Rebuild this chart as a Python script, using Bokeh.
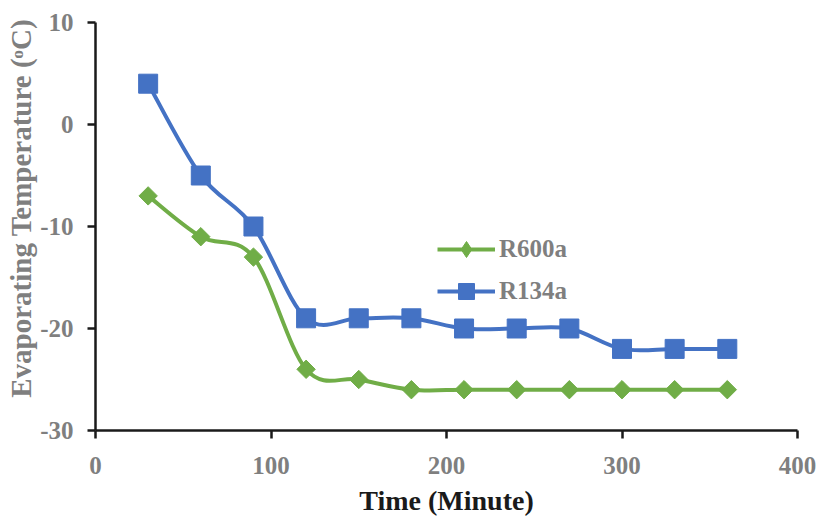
import numpy as np
from bokeh.plotting import figure
from bokeh.models import (Range1d, Legend, LegendItem, ColumnDataSource, FixedTicker,
                          PrintfTickFormatter)
from bokeh.embed import file_html
from bokeh.resources import INLINE

time_min = [30, 60, 90, 120, 150, 180, 210, 240, 270, 300, 330, 360]
r600a = [-7, -11, -13, -24, -25, -26, -26, -26, -26, -26, -26, -26]
r134a = [4, -5, -10, -19, -19, -19, -20, -20, -20, -22, -22, -22]
x_ticks = [0, 100, 200, 300, 400]
y_ticks = [-30, -20, -10, 0, 10]

GREEN = "#70AD47"
BLUE = "#4472C4"
GRAY = "#7f7f7f"
DARK = "#1a1a1a"
FONT = "Liberation Serif"


def smooth_segments(xs, ys):
    # Excel-style smoothed line: cubic Bezier segments with Catmull-Rom control points
    x = np.asarray(xs, float)
    y = np.asarray(ys, float)
    n = len(x)
    xp = np.concatenate([[x[0]], x, [x[-1]]])
    yp = np.concatenate([[y[0]], y, [y[-1]]])
    d = {k: [] for k in ("x0", "y0", "x1", "y1", "cx0", "cy0", "cx1", "cy1")}
    for i in range(n - 1):
        j = i + 1
        d["x0"].append(x[i]); d["y0"].append(y[i])
        d["x1"].append(x[i + 1]); d["y1"].append(y[i + 1])
        d["cx0"].append(x[i] + (xp[j + 1] - xp[j - 1]) / 6)
        d["cy0"].append(y[i] + (yp[j + 1] - yp[j - 1]) / 6)
        d["cx1"].append(x[i + 1] - (xp[j + 2] - xp[j]) / 6)
        d["cy1"].append(y[i + 1] - (yp[j + 2] - yp[j]) / 6)
    return ColumnDataSource(d)


H = 518
p = figure(width=818, height=H, output_backend="svg", toolbar_location=None,
           x_range=Range1d(0, 400), y_range=Range1d(-30, 10),
           min_border_left=95, min_border_right=21, min_border_top=22, min_border_bottom=86)
p.outline_line_color = None
p.xgrid.visible = False
p.ygrid.visible = False

for ax in (p.xaxis[0], p.yaxis[0]):
    ax.axis_line_color = DARK
    ax.axis_line_width = 2.5
    ax.major_tick_line_color = DARK
    ax.major_tick_line_width = 2.5
    ax.major_tick_out = 8
    ax.major_tick_in = 0
    ax.minor_tick_line_color = None
    ax.major_label_text_font = FONT
    ax.major_label_text_font_style = "bold"
    ax.major_label_text_font_size = "25px"
    ax.major_label_text_color = GRAY
    ax.axis_label_text_font = FONT
    ax.axis_label_text_font_style = "bold"
    ax.formatter = PrintfTickFormatter(format="%d")

p.xaxis.ticker = FixedTicker(ticks=x_ticks)
p.yaxis.ticker = FixedTicker(ticks=y_ticks)
p.xaxis.axis_label = "Time (Minute)"
p.xaxis.axis_label_text_font_size = "28px"
p.xaxis.axis_label_text_color = DARK
p.xaxis.axis_label_standoff = 8
p.xaxis.major_label_standoff = 18
p.yaxis.major_label_standoff = 14
# leading no-break spaces shift the centred title towards the top, as in the original
p.yaxis.axis_label = "\u00a0" * 5 + "Evaporating Temperature (\u1d52C)"
p.yaxis.axis_label_text_font_size = "29px"
p.yaxis.axis_label_text_color = GRAY
p.yaxis.axis_label_standoff = 0

src_g = smooth_segments(time_min, r600a)
src_b = smooth_segments(time_min, r134a)
p.bezier(x0="x0", y0="y0", x1="x1", y1="y1", cx0="cx0", cy0="cy0", cx1="cx1", cy1="cy1",
         source=src_g, line_color=GREEN, line_width=4)
p.bezier(x0="x0", y0="y0", x1="x1", y1="y1", cx0="cx0", cy0="cy0", cx1="cx1", cy1="cy1",
         source=src_b, line_color=BLUE, line_width=4)

sg = p.scatter(time_min, r600a, marker="square", angle=np.pi / 4, size=13,
               fill_color=GREEN, line_color=GREEN)
sb = p.scatter(time_min, r134a, marker="square", size=19,
               fill_color=BLUE, line_color=BLUE)

# hidden renderers used only for the legend swatches
lg = p.line(time_min, r600a, line_color=GREEN, line_width=4, visible=False)
lb = p.line(time_min, r134a, line_color=BLUE, line_width=4, visible=False)
mg = p.scatter(time_min, r600a, marker="diamond", size=16,
               fill_color=GREEN, line_color=GREEN, visible=False)

legend = Legend(items=[LegendItem(label="R600a", renderers=[lg, mg]),
                       LegendItem(label="R134a", renderers=[lb, sb])],
                location=(342, 119), orientation="vertical",
                glyph_width=58, glyph_height=40, label_height=40, spacing=2,
                label_standoff=4, padding=0, margin=0,
                border_line_alpha=0, background_fill_alpha=0,
                label_text_font=FONT, label_text_font_style="bold",
                label_text_font_size="25px", label_text_color=GRAY)
p.add_layout(legend, "center")

open("out.html", "w").write(file_html(p, INLINE))
